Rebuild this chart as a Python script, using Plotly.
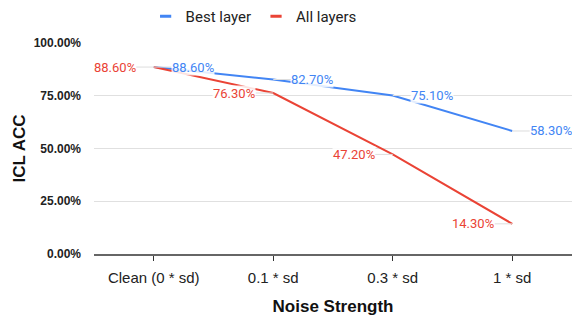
import plotly.graph_objects as go

categories = ["Clean (0 * sd)", "0.1 * sd", "0.3 * sd", "1 * sd"]
best_layer = [0.886, 0.827, 0.751, 0.583]
all_layers = [0.886, 0.763, 0.472, 0.143]
y_ticks = [0, 0.25, 0.5, 0.75, 1.0]

BLUE = "#4285F4"
RED = "#EA4335"

fig = go.Figure()
fig.add_trace(go.Scatter(x=categories, y=best_layer, mode="lines",
                         line=dict(color=BLUE, width=2), showlegend=False))
fig.add_trace(go.Scatter(x=categories, y=all_layers, mode="lines",
                         line=dict(color=RED, width=2), showlegend=False))
# legend entries
for name, col in [("Best layer", BLUE), ("All layers", RED)]:
    fig.add_trace(go.Scatter(x=[None], y=[None], mode="markers", name=name,
                             marker=dict(symbol="line-ew", size=8,
                                         line=dict(color=col, width=3))))

for series, col, side in [(best_layer, BLUE, 1), (all_layers, RED, -1)]:
    for c, v in zip(categories, series):
        fig.add_annotation(x=c, y=v, text=f"{v*100:.2f}%", showarrow=True,
                           arrowhead=0, arrowwidth=1, arrowcolor="#dddddd",
                           ax=side * 39, ay=0, bgcolor="rgba(255,255,255,0.85)",
                           borderpad=0,
                           font=dict(family="Roboto", size=13, color=col))

fig.update_layout(
    width=572, height=316,
    margin=dict(l=94, r=0, t=43, b=62, autoexpand=False),
    paper_bgcolor="white", plot_bgcolor="white",
    font=dict(family="Liberation Sans, Arial", color="#222222"),
    legend=dict(orientation="h", x=0.108, xanchor="left", y=1.0, yanchor="top",
                yref="container", font=dict(family="Roboto", size=15, color="#222222"),
                itemwidth=30, tracegroupgap=0, bgcolor="rgba(0,0,0,0)"),
    xaxis=dict(type="category", range=[-0.5, 3.5], showgrid=False,
               showline=True, linecolor="#666666", linewidth=1.5,
               ticks="outside", ticklen=5, tickcolor="#333333",
               tickfont=dict(size=15, color="#222222"), ticklabelstandoff=4,
               title=dict(text="<b>Noise Strength</b>", font=dict(size=17, color="#111111"),
                          standoff=15),
               zeroline=False),
    yaxis=dict(range=[0, 1], tickvals=y_ticks, tickformat=".2%",
               showgrid=True, gridcolor="#e0e0e0", gridwidth=1,
               zeroline=False, showline=False, ticks="",
               tickfont=dict(size=12, color="#222222", weight="bold"),
               ticklabelstandoff=12,
               title=dict(text="<b>ICL ACC</b>", font=dict(size=17, color="#111111"),
                          standoff=3)),
)
fig.write_html("out.html", config={"displayModeBar": False},
               post_script="document.body.style.margin='0px';")
